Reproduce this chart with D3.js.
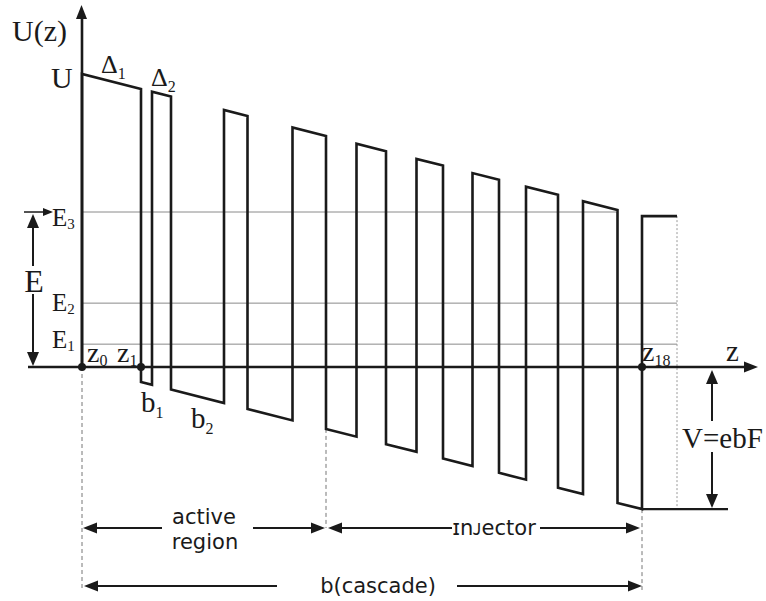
<!DOCTYPE html>
<html>
<head>
<meta charset="utf-8">
<script src="https://cdn.jsdelivr.net/npm/d3@7"></script>
<style>
  html, body { margin: 0; padding: 0; background: #fff; }
  svg { display: block; }
  .serif { font-family: "Liberation Serif", "DejaVu Serif", serif; fill: #1a1a1a; }
  .sans { font-family: "DejaVu Sans", "Noto Sans", sans-serif; fill: #1a1a1a; }
</style>
</head>
<body>
<script>
// ---------- data ----------
// layer interfaces z0 ... z18 (arbitrary length units, one period b = 56)
const interfaces = [0, 5.9, 7.0, 8.9, 14.2, 16.55, 21.05, 24.4, 27.45, 30.4, 33.45, 36.1, 39.05, 41.7, 44.4, 47.6, 50.1, 53.55, 56.0];
// layer types between consecutive interfaces (B = barrier, W = well)
const layerTypes = ["B","W","B","W","B","W","B","W","B","W","B","W","B","W","B","W","B","W"];
const nextBarrierEnd = 59.5;          // start of next period's barrier
const activeEndIndex = 7;             // active region spans z0..z7
// energies (normalised to barrier height U)
const bandOffset = 1.0;               // U
const voltageDrop = 0.485;            // V = ebF
const levelNames = ["E1", "E2", "E3"];
const levelValues = [0.078, 0.218, 0.529];
const levelLineEnds = [59.5, 59.5, 53.55];

// ---------- setup ----------
const W = 766, H = 601;
const period = interfaces[interfaces.length - 1];
const x = d3.scaleLinear().domain([0, period]).range([82, 642]);
const y = d3.scaleLinear().domain([0, bandOffset]).range([367, 74]);
const ink = "#1a1a1a";

const svg = d3.select("body").append("svg").attr("width", W).attr("height", H);

function pot(z, type) {
  return (type === "B" ? bandOffset : 0) - voltageDrop * z / period;
}

function arrowHead(g, tx, ty, dir, len = 12, hw = 5) {
  let pts;
  if (dir === "up") pts = [[tx, ty], [tx - hw, ty + len], [tx + hw, ty + len]];
  if (dir === "down") pts = [[tx, ty], [tx - hw, ty - len], [tx + hw, ty - len]];
  if (dir === "left") pts = [[tx, ty], [tx + len, ty - hw], [tx + len, ty + hw]];
  if (dir === "right") pts = [[tx, ty], [tx - len, ty - hw], [tx - len, ty + hw]];
  g.append("path").attr("d", "M" + pts.map(p => p.join(",")).join("L") + "Z").attr("fill", ink);
}
function seg(g, x1, y1, x2, y2, w = 2.2, color = ink, dash = null) {
  const l = g.append("line").attr("x1", x1).attr("y1", y1).attr("x2", x2).attr("y2", y2)
    .attr("stroke", color).attr("stroke-width", w);
  if (dash) l.attr("stroke-dasharray", dash);
  return l;
}
function subText(g, cls, tx, ty, main, sub, mainSize, subSize, subDx = 1, subDy = 4) {
  const t = g.append("text").attr("class", cls).attr("x", tx).attr("y", ty).style("font-size", mainSize + "px");
  t.append("tspan").text(main);
  if (sub !== null) t.append("tspan").attr("dx", subDx).attr("dy", subDy).style("font-size", subSize + "px").text(sub);
  return t;
}

const g = svg.append("g");

// ---------- energy level lines ----------
levelValues.forEach((v, i) => {
  seg(g, x(0), y(v), x(levelLineEnds[i]), y(v), 1, "#8a8a8a");
});

// ---------- dashed / dotted guides ----------
const yZero = y(0);
const yBottom = y(-voltageDrop);
const dimY1 = 528, dimY2 = 586;
seg(g, x(0), yZero, x(0), 590, 1, "#777", "4,3");
seg(g, x(interfaces[activeEndIndex]), y(pot(interfaces[activeEndIndex], "W")), x(interfaces[activeEndIndex]), dimY1, 1, "#777", "4,3");
seg(g, x(period), yBottom, x(period), 590, 1, "#777", "4,3");
seg(g, x(nextBarrierEnd), y(bandOffset - voltageDrop), x(nextBarrierEnd), yBottom, 1, "#999", "2,2");

// ---------- potential profile ----------
const pts = [[0, 0]];
layerTypes.forEach((t, i) => {
  const z1 = interfaces[i], z2 = interfaces[i + 1];
  pts.push([z1, pot(z1, t)]);
  pts.push([z2, pot(z2, t)]);
});
pts.push([period, bandOffset - voltageDrop]);
pts.push([nextBarrierEnd, bandOffset - voltageDrop]);
const line = d3.line().x(d => x(d[0])).y(d => y(d[1]));
g.append("path").attr("d", line(pts)).attr("fill", "none").attr("stroke", ink)
  .attr("stroke-width", 2.6).attr("stroke-linejoin", "miter");

// bottom line at -V
seg(g, x(period), yBottom, 728, yBottom, 2.3);

// ---------- axes ----------
seg(g, 28, yZero, 750, yZero, 2.6);
arrowHead(g, 758, yZero, "right", 14, 5.5);
seg(g, x(0), yZero, x(0), 14, 2.6);
arrowHead(g, x(0) - 0.5, 5, "up", 14, 5.5);

// dots
[0, 1, interfaces.length - 1].forEach(i => {
  g.append("circle").attr("cx", x(interfaces[i])).attr("cy", yZero).attr("r", 4).attr("fill", ink);
});

// ---------- serif labels ----------
g.append("text").attr("class", "serif").attr("x", 12).attr("y", 41).style("font-size", "30px").text("U(z)");
g.append("text").attr("class", "serif").attr("x", 51).attr("y", 88).style("font-size", "30px").text("U");
subText(g, "serif", 101, 73, "Δ", "1", 26, 16, 0, 6);
subText(g, "serif", 151, 86, "Δ", "2", 26, 16, 0, 6);
// level labels
const levelLabelY = [348, 311, 226];
levelNames.forEach((n, i) => {
  subText(g, "serif", 52, levelLabelY[i], n[0], n.slice(1), 25, 15, 0, 3);
});
// E dimension arrow
const eX = 33;
seg(g, 24, y(levelValues[2]), 44, y(levelValues[2]), 1.5);
arrowHead(g, 53, y(levelValues[2]), "right", 10, 4);
seg(g, eX, y(levelValues[2]) + 12, eX, 266, 2);
seg(g, eX, 294, eX, yZero - 12, 2);
arrowHead(g, eX, y(levelValues[2]) + 2, "up", 14, 6);
arrowHead(g, eX, yZero - 1, "down", 14, 6);
g.append("text").attr("class", "serif").attr("x", eX + 1).attr("y", 292).attr("text-anchor", "middle").style("font-size", "32px").text("E");

// z labels
subText(g, "serif", 87, 362, "z", "0", 28, 16, 0, 4);
subText(g, "serif", 117, 362, "z", "1", 28, 16, 0, 4);
subText(g, "serif", 642, 361, "z", "18", 28, 16, 0, 5);
g.append("text").attr("class", "serif").attr("x", 726).attr("y", 361).style("font-size", "29px").text("z");
subText(g, "serif", 141, 412, "b", "1", 29, 16, 0, 6);
subText(g, "serif", 191, 428, "b", "2", 29, 16, 0, 6);

// V = ebF
const vX = 712;
seg(g, vX, yZero + 12, vX, 421, 2);
seg(g, vX, 452, vX, yBottom - 12, 2);
arrowHead(g, vX, yZero + 3, "up", 14, 6);
arrowHead(g, vX, yBottom - 1, "down", 14, 6);
g.append("text").attr("class", "serif").attr("x", 682).attr("y", 448).style("font-size", "29px").text("V=ebF");

// ---------- dimension arrows ----------
function dimArrow(xa, xb, yy, gapA, gapB) {
  seg(g, xa + 8, yy, gapA, yy, 2);
  seg(g, gapB, yy, xb - 8, yy, 2);
  arrowHead(g, xa, yy, "left", 14, 5.5);
  arrowHead(g, xb, yy, "right", 14, 5.5);
}
const xActEnd = x(interfaces[activeEndIndex]);
dimArrow(x(0) + 1, xActEnd - 1, dimY1, 162, 253);
dimArrow(xActEnd + 2, x(period) - 2, dimY1, 452, 540);
dimArrow(x(0) + 2, x(period), dimY2, 277, 457);

g.append("text").attr("class", "sans").attr("x", 204).attr("y", 524).attr("text-anchor", "middle").style("font-size", "21px").text("active");
g.append("text").attr("class", "sans").attr("x", 205).attr("y", 549).attr("text-anchor", "middle").style("font-size", "21px").text("region");
g.append("text").attr("class", "sans").attr("x", 494).attr("y", 535).attr("text-anchor", "middle").style("font-size", "21px").text("ɪnᴊector");
g.append("text").attr("class", "sans").attr("x", 378).attr("y", 593).attr("text-anchor", "middle").style("font-size", "21px").text("b(cascade)");
</script>
</body>
</html>
